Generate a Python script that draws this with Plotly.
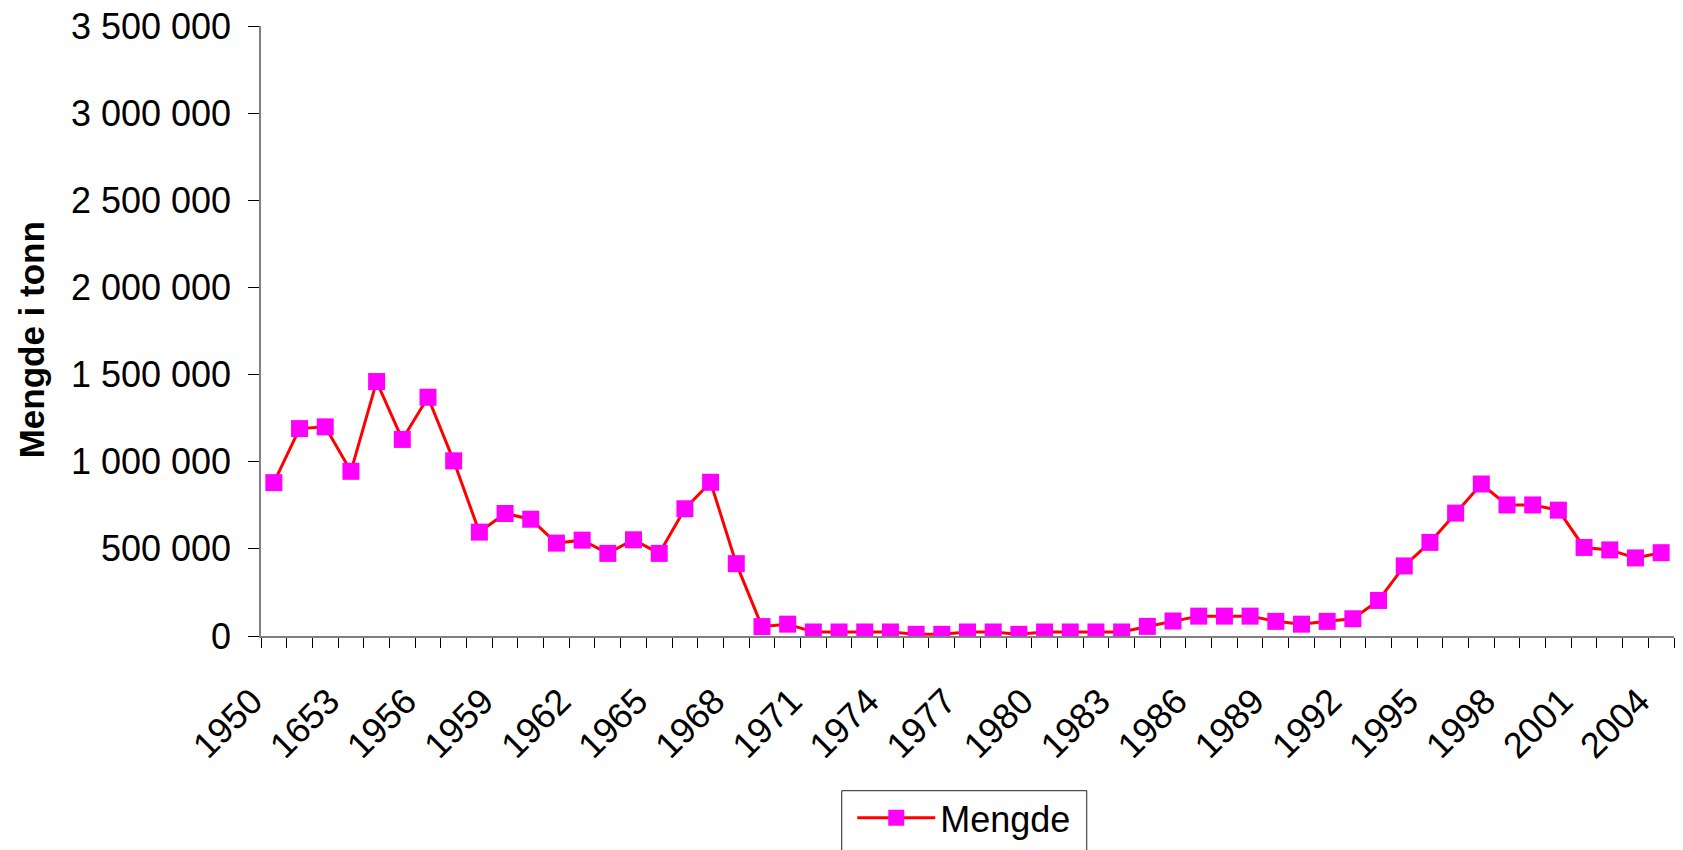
import plotly.graph_objects as go

# ---- data ----
categories = ["1950", "1951", "1952", "1653", "1954", "1955", "1956", "1957", "1958", "1959",
              "1960", "1961", "1962", "1963", "1964", "1965", "1966", "1967", "1968", "1969",
              "1970", "1971", "1972", "1973", "1974", "1975", "1976", "1977", "1978", "1979",
              "1980", "1981", "1982", "1983", "1984", "1985", "1986", "1987", "1988", "1989",
              "1990", "1991", "1992", "1993", "1994", "1995", "1996", "1997", "1998", "1999",
              "2000", "2001", "2002", "2003", "2004"]
mengde = [880000, 1190000, 1200000, 945000, 1460000, 1128000, 1370000, 1005000, 596000, 703000,
          670000, 533000, 550000, 474000, 552000, 474000, 730000, 882000, 415000, 54000,
          68000, 23000, 23000, 23000, 23000, 9500, 9500, 23000, 23000, 9500,
          23000, 23000, 23000, 23000, 55000, 86000, 114000, 114000, 114000, 84000,
          68000, 84000, 99000, 204000, 402000, 537000, 705000, 872000, 752000, 752000,
          722000, 508000, 494000, 448000, 478000]
series_name = "Mengde"
y_title = "Mengde i tonn"
y_ticks = [0, 500000, 1000000, 1500000, 2000000, 2500000, 3000000, 3500000]
label_step = 3

FONT = "Liberation Sans, Arial, sans-serif"
idx = list(range(len(categories)))
xrange_ = [-0.5, len(categories) - 0.5]
yrange_ = [y_ticks[0], y_ticks[-1]]

fig = go.Figure()
fig.add_trace(go.Scatter(
    x=idx, y=mengde, name=series_name, mode="lines+markers",
    line=dict(color="#FF0000", width=3),
    marker=dict(symbol="square", size=17, color="#FF00FF", line=dict(width=0)),
    customdata=categories, hovertemplate="%{customdata}: %{y}<extra></extra>",
))

fig.update_layout(
    width=1683, height=850,
    paper_bgcolor="white", plot_bgcolor="white",
    font=dict(family=FONT, size=36, color="black"),
    margin=dict(l=261, r=9, t=26, b=214, autoexpand=False),
    separators=", ",
    showlegend=True,
    legend=dict(
        orientation="h", x=0.4977, xanchor="center", y=-0.2490, yanchor="top",
        borderwidth=0, font=dict(size=36), itemwidth=78, bgcolor="rgba(0,0,0,0)",
    ),
    # legend frame (wider padding than plotly's own legend border)
    shapes=[dict(
        type="rect", xref="paper", yref="paper", layer="below",
        x0=0.4110, x1=0.5844, y0=-0.38, y1=-0.2536,
        line=dict(color="#202020", width=1), fillcolor="white",
    )],
    xaxis=dict(
        range=xrange_, tickmode="array", tickvals=idx[::label_step],
        ticktext=categories[::label_step], ticks="", tickangle=-45,
        showline=True, linecolor="#808080", linewidth=1.5, showgrid=False, zeroline=False,
        tickfont=dict(size=36), ticklabelstandoff=28, ticklabelshift=-22,
        minor=dict(tickmode="linear", tick0=-0.5, dtick=1, ticks="outside",
                   ticklen=10, tickcolor="black", tickwidth=1, showgrid=False),
    ),
    xaxis2=dict(
        overlaying="x", anchor="y", side="bottom", range=xrange_, tickmode="linear",
        tick0=-0.5, dtick=1, ticks="inside", ticklen=10, tickcolor="black", tickwidth=1,
        showticklabels=False, showgrid=False, showline=False, zeroline=False,
    ),
    yaxis=dict(
        range=yrange_, tickmode="array", tickvals=y_ticks, tickformat=",d",
        ticks="outside", ticklen=11, tickcolor="black", tickwidth=1,
        showline=True, linecolor="#808080", linewidth=1.5, showgrid=False, zeroline=False,
        tickfont=dict(size=36), ticklabelstandoff=10,
    ),
    yaxis2=dict(
        overlaying="y", anchor="x", side="left", range=yrange_, tickmode="array",
        tickvals=y_ticks, ticks="inside", ticklen=11, tickcolor="black", tickwidth=1,
        showticklabels=False, showgrid=False, showline=False, zeroline=False,
    ),
    annotations=[dict(
        text="<b>" + y_title + "</b>", textangle=-90, xref="paper", yref="paper",
        x=-0.1623, y=0.4858, xanchor="center", yanchor="middle", showarrow=False,
        font=dict(size=35, family=FONT, color="black"),
    )],
)

fig.write_html(
    "out.html",
    config={"displayModeBar": False},
    post_script="document.body.style.margin='0';document.body.style.overflow='hidden';",
)
